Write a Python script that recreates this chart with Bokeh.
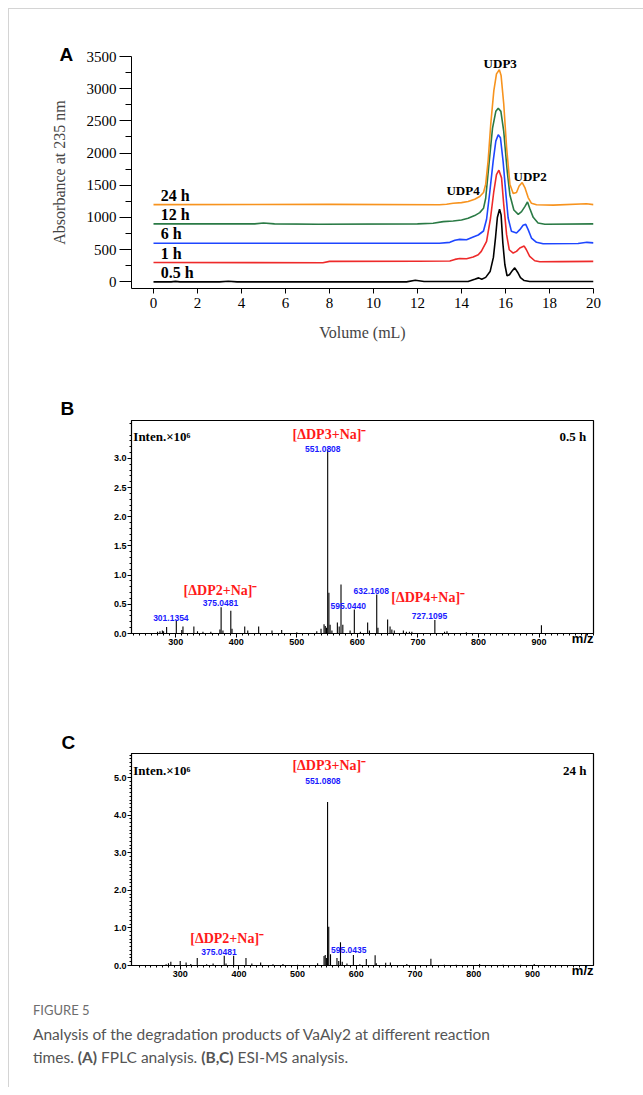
from bokeh.plotting import figure
from bokeh.models import Range1d, FixedTicker, Div, NumeralTickFormatter, Title
from bokeh.layouts import column
from bokeh.embed import file_html
from bokeh.resources import INLINE
from bokeh.core.properties import value

# ---------------- Panel A: FPLC traces (Volume mL, absorbance incl. stacking offset) ----------------
series_names = ["0.5 h", "1 h", "6 h", "12 h", "24 h"]
series_colors = ["#000000", "#ee2a2a", "#1e46ff", "#2a7a45", "#f7931e"]
baselines = [0, 300, 600, 900, 1200]

vol_05 = [0, 0.8, 1.0, 1.2, 3.0, 3.4, 3.8, 11.5, 11.9, 12.3, 14.3, 14.6, 14.78, 14.92, 15.1, 15.3, 15.45,
          15.55, 15.63, 15.73, 15.8, 15.88, 15.97, 16.07, 16.18, 16.3, 16.42, 16.55, 16.68, 16.85, 17.1, 19.0, 20.0]
abs_05 = [0, 0, 8, 0, 0, 10, 0, 0, 25, 5, 5, 40, 62, 42, 70, 160, 380,
          700, 1000, 1128, 1040, 600, 270, 95, 110, 170, 218, 150, 65, 20, 5, 5, 5]

vol_1 = [0, 7.7, 8.0, 12.0, 13.47, 13.7, 13.92, 14.23, 14.53, 14.76, 14.9, 15.14, 15.32, 15.47, 15.59, 15.7,
         15.82, 15.92, 16.05, 16.17, 16.35, 16.5, 16.65, 16.85, 16.95, 17.1, 17.33, 17.56, 18.5, 20.0]
abs_1 = [300, 298, 318, 320, 325, 349, 364, 359, 385, 421, 473, 629, 992, 1407, 1667, 1735,
         1615, 1200, 733, 499, 447, 473, 525, 556, 499, 395, 328, 312, 315, 318]

vol_6 = [0, 8.0, 13.0, 13.47, 13.7, 13.92, 14.23, 14.53, 14.76, 15.0, 15.14, 15.29, 15.44, 15.56, 15.67, 15.77,
         15.89, 16.02, 16.12, 16.27, 16.5, 16.65, 16.8, 16.92, 17.03, 17.18, 17.41, 17.71, 19.3, 19.7, 20.0]
abs_6 = [600, 600, 600, 614, 645, 660, 655, 697, 728, 790, 972, 1407, 1875, 2186, 2285, 2238,
         1875, 1356, 992, 785, 759, 811, 878, 894, 811, 681, 614, 592, 595, 614, 605]

vol_12 = [0, 4.6, 5.0, 5.5, 7.5, 12.0, 12.71, 13.17, 13.62, 14.0, 14.3, 14.6, 14.83, 15.0, 15.1, 15.26, 15.41,
          15.56, 15.67, 15.79, 15.92, 16.08, 16.2, 16.38, 16.58, 16.73, 16.88, 17.0, 17.1, 17.26, 17.48, 17.79, 20.0]
abs_12 = [900, 900, 914, 900, 895, 900, 910, 935, 946, 961, 987, 1029, 1075, 1142, 1298, 1869, 2388,
          2648, 2695, 2648, 2336, 1713, 1350, 1116, 1049, 1090, 1168, 1241, 1142, 1002, 914, 895, 900]

vol_24 = [0, 8.0, 13.0, 13.32, 13.62, 14.0, 14.3, 14.6, 14.83, 15.0, 15.1, 15.21, 15.33, 15.47, 15.59, 15.72,
          15.8, 15.92, 16.05, 16.2, 16.35, 16.5, 16.62, 16.76, 16.88, 17.03, 17.18, 17.41, 18.17, 19.68, 20.0]
abs_24 = [1200, 1203, 1197, 1205, 1220, 1231, 1247, 1283, 1325, 1387, 1517, 1880, 2451, 2970, 3230, 3293,
          3204, 2762, 2087, 1517, 1372, 1387, 1490, 1542, 1465, 1309, 1220, 1197, 1192, 1213, 1200]

a_vols = [vol_05, vol_1, vol_6, vol_12, vol_24]
a_abs = [abs_05, abs_1, abs_6, abs_12, abs_24]

a_xticks = [0, 2, 4, 6, 8, 10, 12, 14, 16, 18, 20]
a_yticks = [0, 500, 1000, 1500, 2000, 2500, 3000, 3500]
peak_names = ["UDP4", "UDP3", "UDP2"]
peak_label_x = [14.07, 15.76, 17.12]
peak_label_y = [1424, 3390, 1636]

# ---------------- Panel B: ESI-MS 0.5 h ----------------
mz_b = [270, 274, 278, 280, 285, 301, 310, 312, 330, 336, 345, 358, 373, 375, 378, 391, 393, 414, 419, 437,
        459, 475, 500, 533, 540, 545, 547, 549, 551, 553, 555, 558, 567, 570, 573, 576, 588, 595, 605, 617,
        620, 632, 634, 650, 654, 657, 661, 676, 681, 686, 690, 728, 744, 748, 780, 904]
int_b = [0.03, 0.04, 0.05, 0.04, 0.11, 0.23, 0.06, 0.12, 0.12, 0.04, 0.03, 0.03, 0.07, 0.45, 0.05, 0.39, 0.08, 0.12, 0.05, 0.12,
         0.05, 0.06, 0.02, 0.04, 0.08, 0.16, 0.13, 0.10, 3.15, 0.70, 0.15, 0.05, 0.19, 0.12, 0.84, 0.15, 0.05, 0.41, 0.03, 0.19,
         0.05, 0.67, 0.10, 0.24, 0.12, 0.07, 0.05, 0.05, 0.03, 0.03, 0.03, 0.23, 0.03, 0.04, 0.02, 0.14]
b_peak_text = ["301.1354", "375.0481", "551.0808", "595.0440", "632.1608", "727.1095"]
b_peak_x = [292, 374, 543, 585, 623, 719]
b_peak_y = [0.26, 0.53, 3.17, 0.47, 0.72, 0.30]
b_ion_text = ["[ΔDP2+Na]⁻", "[ΔDP3+Na]⁻", "[ΔDP4+Na]⁻"]
b_ion_x = [374, 554, 717]
b_ion_y = [0.745, 3.41, 0.62]

# ---------------- Panel C: ESI-MS 24 h ----------------
mz_c = [276, 280, 284, 300, 310, 318, 329, 345, 356, 375, 378, 391, 412, 422, 437, 458, 475, 500, 534, 545,
        547, 549, 551, 553, 556, 567, 570, 573, 576, 584, 595, 606, 617, 632, 634, 650, 658, 686, 727, 750,
        770, 810, 850, 880, 903]
int_c = [0.03, 0.06, 0.10, 0.12, 0.08, 0.04, 0.20, 0.03, 0.05, 0.26, 0.05, 0.26, 0.20, 0.05, 0.08, 0.03, 0.04, 0.02, 0.06, 0.25,
         0.28, 0.20, 4.35, 1.03, 0.30, 0.20, 0.12, 0.62, 0.10, 0.05, 0.28, 0.03, 0.17, 0.27, 0.06, 0.07, 0.08, 0.04, 0.18, 0.02,
         0.02, 0.04, 0.02, 0.02, 0.04]
c_peak_text = ["375.0481", "551.0808", "595.0435"]
c_peak_x = [366, 543, 587]
c_peak_y = [0.37, 4.90, 0.40]
c_ion_text = ["[ΔDP2+Na]⁻", "[ΔDP3+Na]⁻"]
c_ion_x = [380, 554]
c_ion_y = [0.73, 5.33]

SERIF = "Liberation Serif"
SANS = "Liberation Sans"
W = 634
NBSP = "\u00a0"


def letter_title(text, offset, standoff):
    return Title(text=text, align="left", offset=offset, standoff=standoff,
                 text_font=SANS, text_font_style="bold", text_font_size="19px", text_color="black")


# ================= Panel A =================
pA = figure(width=W, height=352, x_range=Range1d(-1, 20), y_range=Range1d(-103, 3500),
            min_border_left=122, min_border_right=49, min_border_top=47, min_border_bottom=73,
            output_backend="svg", toolbar_location=None)
pA.outline_line_color = None
pA.grid.visible = False
for vx, vy, col in zip(a_vols, a_abs, series_colors):
    pA.line(vx, vy, line_color=col, line_width=1.6)
pA.text(x=[0.33] * 5, y=[b + 145 for b in baselines], text=series_names,
        text_font=value(SERIF), text_font_style="bold", text_font_size="16px",
        text_align="left", text_baseline="middle", text_color="black")
pA.text(x=peak_label_x, y=peak_label_y, text=peak_names, text_font=value(SERIF),
        text_font_style="bold", text_font_size="13px", text_align="center",
        text_baseline="middle", text_color="black")
pA.xaxis.ticker = FixedTicker(ticks=a_xticks)
pA.yaxis.ticker = FixedTicker(ticks=a_yticks, minor_ticks=[t + 250 for t in a_yticks[:-1]])
for ax in (pA.xaxis[0], pA.yaxis[0]):
    ax.major_label_text_font = SERIF
    ax.major_label_text_font_size = "15px"
    ax.major_label_text_color = "black"
    ax.axis_label_text_font = SERIF
    ax.axis_label_text_font_size = "16px"
    ax.axis_label_text_font_style = "normal"
    ax.axis_line_color = "black"
    ax.major_tick_line_color = "black"
    ax.minor_tick_line_color = "black"
    ax.major_tick_in = 0
    ax.minor_tick_in = 0
pA.xaxis.major_tick_out = 5
pA.xaxis.minor_tick_out = 0
pA.xaxis.major_label_standoff = 4
pA.xaxis.axis_label = "Volume (mL)"
pA.xaxis.axis_label_standoff = 13
pA.yaxis.major_tick_out = 12
pA.yaxis.minor_tick_out = 6
pA.yaxis.major_label_standoff = 3
pA.yaxis.axis_label = "Absorbance at 235 nm"
pA.yaxis.axis_label_standoff = 16
pA.add_layout(letter_title("A", -72, -16), "above")


def ms_panel(height, xr, yr, borders, mz, inten, yticks, peak_text, peak_x, peak_y,
             ion_text, ion_x, ion_y, time_label, letter, letter_offset, letter_standoff, top_y):
    p = figure(width=W, height=height, x_range=Range1d(*xr), y_range=Range1d(*yr),
               min_border_left=borders[0], min_border_right=borders[1],
               min_border_top=borders[2], min_border_bottom=borders[3],
               output_backend="svg", toolbar_location=None)
    p.grid.visible = False
    p.outline_line_color = "black"
    p.outline_line_width = 1.2
    p.segment(x0=mz, y0=[0] * len(mz), x1=mz, y1=inten, line_color="black", line_width=1.1)
    p.text(x=peak_x, y=peak_y, text=peak_text, text_font=value(SANS), text_font_style="bold",
           text_font_size="8.5px", text_color="#1a1aff", text_align="center", text_baseline="middle")
    p.text(x=ion_x, y=ion_y, text=ion_text, text_font=value(SERIF), text_font_style="bold",
           text_font_size="14px", text_color="#ff1a1a", text_align="center", text_baseline="middle")
    p.text(x=[xr[0] + 3], y=[top_y], text=["Inten.×10⁶"], text_font=value(SERIF), text_font_style="bold",
           text_font_size="13px", text_color="black", text_align="left", text_baseline="middle")
    p.text(x=[xr[1] - 12], y=[top_y], text=[time_label], text_font=value(SERIF), text_font_style="bold",
           text_font_size="13px", text_color="black", text_align="right", text_baseline="middle")
    step = yticks[1] - yticks[0]
    nminor = int(round(step / 0.1))
    yminor = [round(k * 0.1, 2) for k in range(int(yr[1] / 0.1) + 1) if k % nminor != 0]
    p.yaxis.ticker = FixedTicker(ticks=yticks, minor_ticks=yminor)
    xmajor = [300, 400, 500, 600, 700, 800, 900]
    xminor = [v for v in range(230, 1001, 10) if v % 100 != 0]
    p.xaxis.ticker = FixedTicker(ticks=xmajor, minor_ticks=xminor)
    p.yaxis.formatter = NumeralTickFormatter(format="0.0")
    for ax in (p.xaxis[0], p.yaxis[0]):
        ax.major_label_text_font = SANS
        ax.major_label_text_font_style = "bold"
        ax.major_label_text_font_size = "9px"
        ax.major_label_text_color = "black"
        ax.axis_line_color = "black"
        ax.major_tick_line_color = "black"
        ax.minor_tick_line_color = "black"
        ax.major_tick_in = 0
        ax.minor_tick_in = 0
        ax.major_tick_out = 4
        ax.minor_tick_out = 2
        ax.major_label_standoff = 1
    xa = p.xaxis[0]
    xa.axis_label = "m/z" + NBSP * 6
    xa.axis_label_align = "end"
    xa.axis_label_standoff = -17
    xa.axis_label_text_font = SANS
    xa.axis_label_text_font_style = "bold"
    xa.axis_label_text_font_size = "13px"
    xa.axis_label_text_color = "black"
    p.add_layout(letter_title(letter, letter_offset, letter_standoff), "above")
    return p


pB = ms_panel(319, (227, 990), (0, 3.65), (120, 50, 59, 47), mz_b, int_b,
              [0, 0.5, 1.0, 1.5, 2.0, 2.5, 3.0], b_peak_text, b_peak_x, b_peak_y,
              b_ion_text, b_ion_x, b_ion_y, "0.5 h", "B", -71, 4, 3.37)
pC = ms_panel(315, (217, 1004), (0, 5.64), (119, 49, 73, 30), mz_c, int_c,
              [0, 1.0, 2.0, 3.0, 4.0, 5.0], c_peak_text, c_peak_x, c_peak_y,
              c_ion_text, c_ion_x, c_ion_y, "24 h", "C", -70, 2, 5.2)

caption = Div(width=W, height=92, margin=(0, 0, 0, 0), text=(
    '<div style="font-family:Lato, sans-serif; padding-left:24px; padding-top:5px;">'
    '<div style="font-size:13px; color:#6d6d6d; line-height:20px;">FIGURE 5</div>'
    '<div style="font-size:15.5px; color:#555555; line-height:23px; margin-top:3px;">'
    'Analysis of the degradation products of VaAly2 at different reaction<br>'
    'times. <b>(A)</b> FPLC analysis. <b>(B,C)</b> ESI-MS analysis.</div></div>'))

layout = column(pA, pB, pC, caption, spacing=0, margin=(8, 0, 0, 8),
                styles={"border-left": "1px solid #d4d4d4", "border-top": "1px solid #d4d4d4"})

open("out.html", "w").write(file_html(layout, INLINE))
